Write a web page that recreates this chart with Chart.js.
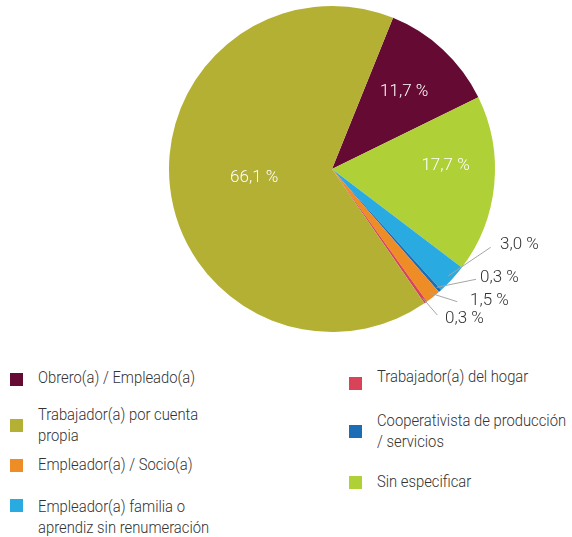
<!DOCTYPE html>
<html>
<head>
<meta charset="utf-8">
<script src="https://cdn.jsdelivr.net/npm/chart.js@4"></script>
<style>
  body { margin: 0; background: #fff; }
  #wrap { position: relative; width: 572px; height: 537px; font-family: Roboto, sans-serif; font-weight: 300; color: #333333; }
  #pie { position: absolute; left: 0; top: 0; width: 572px; height: 345px; }
  .sq { position: absolute; width: 13px; height: 13px; }
  .txt { position: absolute; font-size: 17px; line-height: 21px; white-space: pre; transform: scaleX(0.87); transform-origin: left top; }
</style>
</head>
<body>
<div id="wrap">
  <div id="pie"><canvas id="myChart"></canvas></div>
  <div id="legend"></div>
</div>
<script>
const categories = [
  "Obrero(a) / Empleado(a)",
  "Sin especificar",
  "Empleador(a) familia o aprendiz sin renumeración",
  "Cooperativista de producción / servicios",
  "Empleador(a) / Socio(a)",
  "Trabajador(a) del hogar",
  "Trabajador(a) por cuenta propia"
];
const values = [11.7, 17.7, 3.0, 0.3, 1.5, 0.3, 66.1];
const colors = ["#650a33", "#afd036", "#29abe2", "#1b6db5", "#ee8c26", "#d9435a", "#b3b034"];

// legend text with the same line breaks as the original
const legendText = [
  "Obrero(a) / Empleado(a)",
  "Sin especificar",
  "Empleador(a) familia o\naprendiz sin renumeración",
  "Cooperativista de producción\n/ servicios",
  "Empleador(a) / Socio(a)",
  "Trabajador(a) del hogar",
  "Trabajador(a) por cuenta\npropia"
];

// label placement: inside labels by radius factor, outside ones with leader lines
const labelPlace = [
  { inside: true, f: 0.65, dx: 0, dy: 0 },
  { inside: true, f: 0.70, dx: 0, dy: -14 },
  { inside: false, line: [158.7, 78.3], text: [168, 76] },
  { inside: false, line: [144, 110.3], text: [148, 109] },
  { inside: false, line: [125.3, 132.7], text: [138, 132] },
  { inside: false, line: [105.3, 146], text: [113, 150] },
  { inside: true, f: 0.48, dx: 0, dy: 0 }
];

function fmt(v) {
  return v.toFixed(1).replace(".", ",") + " %";
}

const sliceLabels = {
  id: "sliceLabels",
  afterDatasetsDraw(chart) {
    const ctx = chart.ctx;
    const meta = chart.getDatasetMeta(0);
    ctx.save();
    ctx.font = "300 17px Roboto, sans-serif";
    ctx.textBaseline = "middle";
    meta.data.forEach((arc, i) => {
      const p = arc.getProps(["x", "y", "startAngle", "endAngle", "outerRadius"], true);
      const mid = (p.startAngle + p.endAngle) / 2;
      const c = labelPlace[i];
      if (c.inside) {
        const r = p.outerRadius * c.f;
        ctx.fillStyle = "#ffffff";
        ctx.textAlign = "center";
        ctx.fillText(fmt(values[i]), p.x + Math.cos(mid) * r + c.dx, p.y + Math.sin(mid) * r + c.dy);
      } else {
        const r0 = p.outerRadius - 5;
        ctx.strokeStyle = "#a5a5a5";
        ctx.lineWidth = 1;
        ctx.beginPath();
        ctx.moveTo(p.x + Math.cos(mid) * r0, p.y + Math.sin(mid) * r0);
        ctx.lineTo(p.x + c.line[0], p.y + c.line[1]);
        ctx.stroke();
        ctx.fillStyle = "#333333";
        ctx.textAlign = "left";
        ctx.fillText(fmt(values[i]), p.x + c.text[0], p.y + c.text[1]);
      }
    });
    ctx.restore();
  }
};

const data = {
  labels: categories,
  datasets: [
    {
      data: values,
      backgroundColor: colors,
      borderWidth: 0,
    },
  ],
};

const config = {
  type: "pie",
  data: data,
  options: {
    responsive: true,
    maintainAspectRatio: false,
    animation: false,
    rotation: 22,
    layout: {
      padding: { left: 169, right: 77, top: 6, bottom: 13 },
    },
    plugins: {
      legend: { display: false },
      tooltip: { enabled: false },
    },
  },
  plugins: [sliceLabels],
};

const myChart = new Chart(document.getElementById("myChart"), config);

// html legend, two columns like the original
const legendItems = [
  { i: 0, x: 10, tx: 38, top: 367, sq: 372.5 },
  { i: 6, x: 10, tx: 38, top: 404, sq: 419 },
  { i: 4, x: 10, tx: 38, top: 454, sq: 459 },
  { i: 2, x: 10, tx: 38, top: 495.5, sq: 499 },
  { i: 5, x: 349, tx: 377, top: 366, sq: 377 },
  { i: 3, x: 349, tx: 377, top: 409.5, sq: 425 },
  { i: 1, x: 349, tx: 377, top: 471, sq: 476 }
];

const legend = document.getElementById("legend");
legendItems.forEach(function (it) {
  const sq = document.createElement("div");
  sq.className = "sq";
  sq.style.left = it.x + "px";
  sq.style.top = it.sq + "px";
  sq.style.background = colors[it.i];
  legend.appendChild(sq);
  const t = document.createElement("div");
  t.className = "txt";
  t.style.left = it.tx + "px";
  t.style.top = it.top + "px";
  t.textContent = legendText[it.i];
  legend.appendChild(t);
});
</script>
</body>
</html>
